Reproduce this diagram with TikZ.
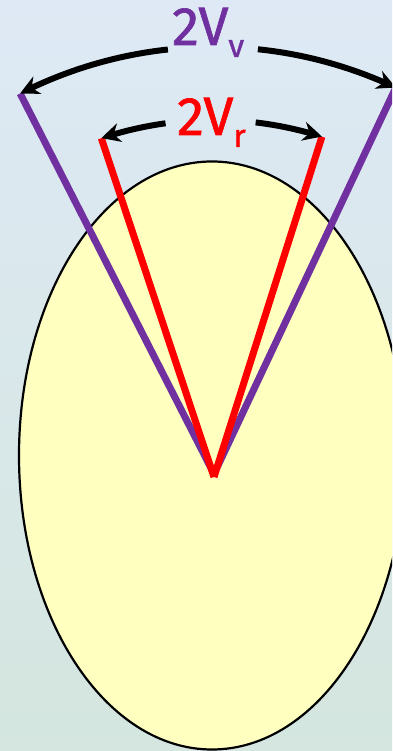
\documentclass[tikz,border=0pt]{standalone}
\usepackage{fontspec}
\setmainfont{Fira Sans}
\newfontfamily\lblfont[FakeBold=1.2]{Fira Sans}
\usetikzlibrary{arrows.meta,calc,bending}
\definecolor{bgtop}{HTML}{DEE9F5}
\definecolor{bgbot}{HTML}{D4E6DF}
\definecolor{yel}{HTML}{FFFFBF}
\definecolor{purp}{HTML}{7030A0}
\begin{document}
\begin{tikzpicture}[x=1pt,y=1pt,
 rayv/.style={purp,line width=7pt,line cap=butt},
 rayr/.style={red,line width=7pt,line cap=butt},
 anglearc/.style={black,line width=6pt,-{Stealth[length=19pt,width=19pt,bend]}},
 lbl/.style={inner sep=0pt,font=\lblfont\fontsize{54}{60}\selectfont}]
\useasboundingbox (0,0) rectangle (392,751);
\clip (0,0) rectangle (392,751);
\shade[top color=bgtop,bottom color=bgbot] (0,0) rectangle (392,751);
\draw[fill=yel,line width=2.2pt] (212,295.5) ellipse[x radius=193,y radius=294];
\coordinate (Ov) at (214,277);
\coordinate (Or) at (214,274);
\coordinate (VL) at ($(Ov)+(117:427)$);
\coordinate (VR) at ($(Ov)+(64.8:427)$);
\coordinate (RL) at ($(Or)+(108.4:357)$);
\coordinate (RR) at ($(Or)+(72.4:357)$);
\draw[rayv] (Ov) -- (VL);
\draw[rayv] (Ov) -- (VR);
\draw[rayr] (Or) -- (RL);
\draw[rayr] (Or) -- (RR);
\draw[anglearc] ($(Ov)+(96.2:427)$) arc[start angle=96.2,end angle=117,radius=427];
\draw[anglearc] ($(Ov)+(84.1:427)$) arc[start angle=84.1,end angle=64.8,radius=427];
\draw[anglearc] ($(Or)+(97.8:357)$) arc[start angle=97.8,end angle=108.4,radius=357];
\draw[anglearc] ($(Or)+(83.3:357)$) arc[start angle=83.3,end angle=72.4,radius=357];
\node[lbl,purp,anchor=base west] (tv) at (172,706) {2V\raisebox{-12pt}{\fontsize{32}{36}\selectfont v}};
\node[lbl,red,anchor=base west] (tr) at (177,616) {2V\raisebox{-12pt}{\fontsize{32}{36}\selectfont r}};
\end{tikzpicture}
\end{document}
